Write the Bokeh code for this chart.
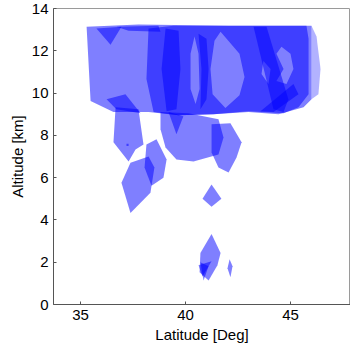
from bokeh.plotting import figure
from bokeh.models import Range1d, FixedTicker
from bokeh.embed import file_html
from bokeh.resources import INLINE

# ---- data: polygon outlines (latitude [deg], altitude [km]) ----
band_lat = [35.29, 37.76, 42.05, 46.00, 46.00, 45.62, 44.43, 43.00, 41.33, 39.67, 38.24, 36.57, 35.48]
band_alt = [13.14, 13.24, 13.19, 13.19, 9.71, 9.33, 9.00, 9.10, 9.00, 8.95, 9.10, 9.10, 9.62]

pale_lat = [46.00, 46.24, 46.43, 46.33, 46.00]
pale_alt = [13.19, 12.67, 11.14, 9.95, 9.71]

core_lat = [38.24, 39.43, 43.00, 45.76, 45.86, 45.86, 45.38, 44.67, 43.00, 41.33, 39.67, 38.48, 38.14]
core_alt = [13.05, 13.19, 13.19, 13.19, 12.57, 9.95, 9.33, 9.05, 9.14, 9.00, 8.95, 9.10, 10.67]
gap1_lat = [40.43, 40.62, 40.67, 40.48, 40.24, 40.24]
gap1_alt = [12.67, 11.86, 10.19, 9.48, 10.19, 11.86]
gap2_lat = [41.67, 42.57, 42.81, 42.57, 41.90, 41.29, 41.19, 41.38]
gap2_alt = [12.90, 11.86, 10.76, 9.90, 9.29, 9.95, 11.14, 12.48]
gap3_lat = [44.57, 45.00, 45.14, 44.81, 44.33, 44.67, 44.33]
gap3_alt = [12.19, 11.86, 11.14, 10.43, 10.57, 11.14, 11.86]
gap4_lat = [43.71, 44.05, 43.95, 43.62]
gap4_alt = [11.52, 11.14, 10.43, 10.90]

cell_lats = [
    [35.76, 36.95, 36.43],
    [36.71, 38.71, 38.81, 37.29],
    [36.24, 37.14, 37.86, 36.71],
    [39.05, 39.67, 39.76, 39.57, 39.10, 38.86],
    [40.62, 41.00, 41.10, 41.00, 40.71, 40.76],
    [43.24, 43.86, 44.90, 44.67, 44.19],
    [45.14, 45.38, 44.19, 43.57],
    [36.67, 37.76, 38.00, 37.62, 37.29, 36.57],
    [36.95, 37.38, 38.24, 38.52, 38.33, 37.38],
    [38.14, 38.62, 39.10, 38.95, 38.38, 38.05],
    [37.19, 37.29, 37.29, 37.19],
    [38.81, 40.14, 41.57, 41.81, 41.57, 40.38, 39.57, 39.05, 38.81],
    [39.19, 39.90, 39.57],
    [41.24, 42.14, 42.67, 42.43, 42.05, 41.57, 41.24],
    [41.24, 41.71, 41.24, 40.81],
    [41.24, 41.67, 41.52, 41.10, 40.67, 40.71],
    [40.62, 41.24, 40.81],
    [40.71, 41.10, 40.86],
    [42.10, 42.24, 42.14, 42.00],
]
cell_alts = [
    [13.05, 13.14, 12.29],
    [13.14, 13.19, 12.90, 12.95],
    [9.71, 9.95, 9.05, 9.24],
    [13.05, 12.95, 11.14, 9.24, 9.14, 11.14],
    [12.81, 12.57, 11.14, 9.71, 9.24, 11.14],
    [13.14, 13.14, 9.71, 9.10, 9.24],
    [10.43, 9.95, 9.10, 9.14],
    [9.33, 9.24, 7.57, 7.33, 6.76, 7.67],
    [5.76, 6.71, 7.00, 6.48, 5.29, 4.33],
    [7.57, 7.81, 6.86, 6.00, 5.62, 6.48],
    [7.60, 7.60, 7.50, 7.50],
    [9.10, 9.05, 8.76, 7.90, 7.10, 6.76, 6.86, 7.43, 8.29],
    [9.10, 8.90, 8.05],
    [8.52, 8.57, 7.67, 6.95, 6.24, 6.48, 7.19],
    [5.67, 5.00, 4.62, 5.00],
    [3.33, 2.43, 1.86, 1.14, 1.52, 2.43],
    [1.86, 2.05, 1.33],
    [2.00, 1.81, 1.14],
    [2.14, 1.81, 1.29, 1.71],
]

x_ticks = [35, 40, 45]
y_ticks = [0, 2, 4, 6, 8, 10, 12, 14]

FONT = "Liberation Sans"

p = figure(frame_width=297, frame_height=296,
           x_range=Range1d(33.714, 47.857), y_range=Range1d(0, 14),
           output_backend="svg", toolbar_location=None,
           min_border_left=53, min_border_right=0, min_border_top=8, min_border_bottom=39,
           background_fill_color="white", border_fill_color="white")

p.grid.visible = False
p.outline_line_color = "#9a9a9a"
p.outline_line_width = 1

fill = "#0000ff"
p.patch(band_lat, band_alt, fill_color=fill, fill_alpha=0.5, line_alpha=0)
p.patch(pale_lat, pale_alt, fill_color=fill, fill_alpha=0.3, line_alpha=0)
p.multi_polygons(xs=[[[core_lat, gap1_lat, gap2_lat, gap3_lat, gap4_lat]]],
                 ys=[[[core_alt, gap1_alt, gap2_alt, gap3_alt, gap4_alt]]],
                 fill_color=fill, fill_alpha=0.5, line_alpha=0)
p.patches(cell_lats, cell_alts, fill_color=fill, fill_alpha=0.5, line_alpha=0)

for ax in (p.xaxis[0], p.yaxis[0]):
    ax.major_tick_in = 3
    ax.major_tick_out = 0
    ax.minor_tick_line_color = None
    ax.axis_line_color = "#555555"
    ax.major_tick_line_color = "#555555"
    ax.major_label_text_font = FONT
    ax.major_label_text_font_size = "15px"
    ax.major_label_text_color = "black"
    ax.axis_label_text_font = FONT
    ax.axis_label_text_font_size = "15px"
    ax.axis_label_text_font_style = "normal"
    ax.axis_label_text_color = "black"

p.xaxis.ticker = FixedTicker(ticks=x_ticks)
p.yaxis.ticker = FixedTicker(ticks=y_ticks)
p.xaxis.axis_label = "Latitude [Deg]"
p.yaxis.axis_label = "Altitude [km]"
p.xaxis.major_label_standoff = 5
p.xaxis.axis_label_standoff = 3
p.yaxis.major_label_standoff = 5
p.yaxis.axis_label_standoff = 3

open("out.html", "w").write(file_html(p, INLINE))
